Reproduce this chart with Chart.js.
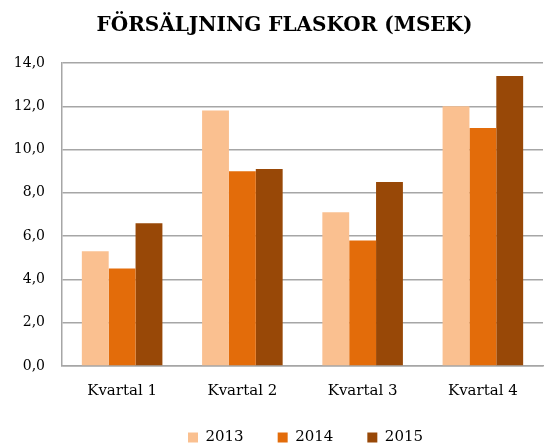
<!DOCTYPE html>
<html>
<head>
<meta charset="utf-8">
<script src="https://cdn.jsdelivr.net/npm/chart.js@4/dist/chart.umd.min.js"></script>
<style>
  html, body { margin: 0; padding: 0; background: #fff; }
  #wrap { width: 545px; height: 443px; overflow: hidden; }
</style>
</head>
<body>
<div id="wrap"><canvas id="chart" width="545" height="443"></canvas></div>
<script>
// Data
const quarters = ['Kvartal 1', 'Kvartal 2', 'Kvartal 3', 'Kvartal 4'];
const sales2013 = [5.3, 11.8, 7.1, 12.0];
const sales2014 = [4.5, 9.0, 5.8, 11.0];
const sales2015 = [6.6, 9.1, 8.5, 13.4];

const serif = "'DejaVu Serif', Georgia, serif";

// small nudges after layout: title a bit right, legend up and right
const nudge = {
  id: 'nudge',
  afterLayout(chart) {
    if (chart.titleBlock) {
      chart.titleBlock.left += 7;
      chart.titleBlock.right += 7;
    }
    if (chart.legend) {
      chart.legend.top -= 20;
      chart.legend.bottom -= 20;
      chart.legend.left += 28;
      chart.legend.right += 28;
    }
  }
};

let ctx = document.getElementById('chart').getContext('2d');
let chart = new Chart(ctx, {
  type: 'bar',
  data: {
    labels: quarters,
    datasets: [
      { label: '2013', data: sales2013, backgroundColor: '#fac090' },
      { label: '2014', data: sales2014, backgroundColor: '#e36c0a' },
      { label: '2015', data: sales2015, backgroundColor: '#984807' }
    ]
  },
  plugins: [nudge],
  options: {
    responsive: false,
    animation: false,
    layout: { padding: { left: 12, right: 2, top: 10, bottom: -32 } },
    datasets: {
      bar: { categoryPercentage: 0.67, barPercentage: 1.0, borderWidth: 0 }
    },
    plugins: {
      title: {
        display: true,
        text: 'FÖRSÄLJNING FLASKOR (MSEK)',
        color: '#000',
        font: { family: serif, size: 20, weight: 'bold' },
        padding: { top: 4, bottom: 25 }
      },
      legend: {
        position: 'bottom',
        labels: {
          color: '#000',
          font: { family: serif, size: 15 },
          boxWidth: 10,
          boxHeight: 10,
          padding: 34
        }
      },
      tooltip: { enabled: false }
    },
    scales: {
      x: {
        grid: { display: false, drawTicks: false },
        border: { display: true, color: '#a6a6a6', width: 1.5 },
        ticks: { color: '#000', font: { family: serif, size: 15 }, padding: 16 }
      },
      y: {
        min: 0,
        max: 14,
        grid: { color: '#a6a6a6', lineWidth: 1.5, drawTicks: false },
        border: { display: true, color: '#a6a6a6', width: 1.5 },
        ticks: {
          stepSize: 2,
          color: '#000',
          padding: 17,
          font: { family: serif, size: 14 },
          callback: v => v.toFixed(1).replace('.', ',')
        },
        afterFit: (scale) => { scale.width = 50; }
      }
    }
  }
});
</script>
</body>
</html>
